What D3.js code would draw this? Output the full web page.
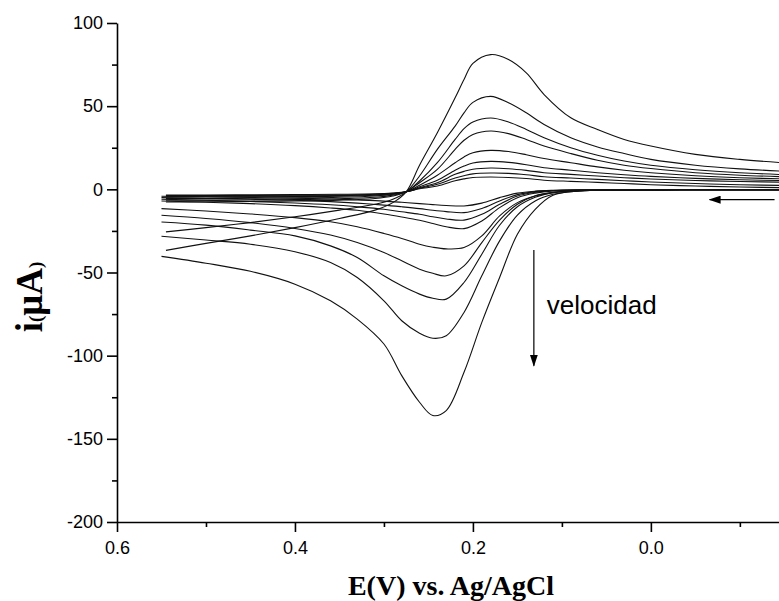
<!DOCTYPE html>
<html>
<head>
<meta charset="utf-8">
<script src="https://cdn.jsdelivr.net/npm/d3@7"></script>
<style>
  html, body { margin: 0; padding: 0; background: #fff; }
  svg { display: block; }
</style>
</head>
<body>
<script>
// ---------- DATA ----------
// Potential grid (V) for the forward (cathodic, lower) branch and reverse (upper) branch
const E_fwd = [0.55, 0.50, 0.45, 0.40, 0.36, 0.33, 0.30, 0.28, 0.26, 0.245, 0.23, 0.21, 0.19, 0.17, 0.15, 0.13, 0.11, 0.08, 0.04, 0.0, -0.05, -0.10, -0.16];
const E_rev = [-0.16, -0.10, -0.05, 0.0, 0.03, 0.06, 0.09, 0.12, 0.14, 0.16, 0.18, 0.20, 0.21, 0.22, 0.24, 0.26, 0.275, 0.29, 0.31, 0.35, 0.40, 0.45, 0.50, 0.545];

// Currents (µA), one pair of arrays per scan rate
const i1_fwd = [-40.3, -44.4, -49.3, -57, -67, -78, -93, -112, -128, -136, -133, -110, -80, -53, -27, -12, -3.5, -1, -0.5, -0.3, -0.2, -0.2, -0.2];
const i1_rev = [15.5, 18, 21, 26, 30, 36, 43, 57, 70, 78, 81, 75.7, 66, 55, 34, 14.5, -1.5, -8, -12.5, -17.5, -23, -28, -32.5, -36.7];
const i2_fwd = [-28.2, -30.5, -33, -37.5, -44, -53, -67, -79, -86.5, -89.5, -88, -74, -52, -31, -15.5, -7, -3, -1, -0.5, -0.3, -0.2, -0.2, -0.2];
const i2_rev = [10.6, 12.3, 14.5, 18, 21.5, 25.5, 31, 39, 46, 52, 55.9, 52.3, 46, 38, 24, 8, -1.5, -6, -9, -12.5, -16.5, -20, -23, -25.6];
const i3_fwd = [-19.6, -21.5, -24.5, -28, -34, -41, -52, -58, -63, -65.5, -66, -56, -39, -21.6, -10.5, -4.8, -2, -0.8, -0.5, -0.3, -0.2, -0.2, -0.2];
const i3_rev = [8.6, 10, 11.8, 14.5, 17, 20.5, 25, 31, 36, 40.5, 42.9, 40.5, 36.5, 30, 16, 5, -1.5, -4, -5.5, -6.5, -7, -7.3, -7.5, -7.6];
const i4_fwd = [-15.6, -17.5, -20, -23.5, -27.5, -32, -38, -43, -48, -50.5, -52, -46, -32, -18.5, -9, -3.8, -1.8, -0.7, -0.4, -0.3, -0.2, -0.2, -0.2];
const i4_rev = [7.4, 8.5, 10, 12.5, 14.5, 17.5, 21.5, 26, 30, 33.5, 35.1, 33, 29.5, 24, 12, 4, -1.5, -3.5, -4.8, -5.7, -6.2, -6.4, -6.5, -6.6];
const i5_fwd = [-11.6, -13, -14.8, -17, -19.5, -22.5, -26.5, -29.5, -33, -34.8, -35.8, -35, -28, -16, -8, -4, -2, -0.8, -0.4, -0.3, -0.2, -0.2, -0.2];
const i5_rev = [6.1, 7, 8.2, 10, 11.5, 13.5, 16, 18.5, 20.8, 22.7, 23.4, 22, 19.5, 16, 8.5, 2.5, -1.5, -3, -4, -4.8, -5.2, -5.4, -5.5, -5.6];
const i6_fwd = [-7, -7.8, -8.6, -9.8, -11.2, -12.6, -14.8, -16.6, -18.6, -20.5, -22.5, -23.6, -19, -11, -5, -2.3, -1, -0.5, -0.3, -0.3, -0.2, -0.2, -0.2];
const i6_rev = [5.1, 5.8, 6.6, 7.8, 8.8, 10, 11.5, 13, 14.8, 16.2, 16.8, 15.8, 14, 11.5, 5.5, 1.5, -1.5, -2.8, -3.6, -4.2, -4.4, -4.5, -4.6, -4.6];
const i7_fwd = [-6, -6.6, -7.3, -8.2, -9.3, -10.5, -12, -13.5, -15, -16.5, -17.8, -18.5, -15, -9, -4, -1.8, -0.8, -0.4, -0.3, -0.3, -0.2, -0.2, -0.2];
const i7_rev = [4.2, 4.7, 5.3, 6.2, 7, 8, 9, 10, 11.4, 12.4, 12.8, 12.1, 10.8, 9, 4, 1, -1.5, -2.6, -3.3, -3.8, -4, -4.1, -4.2, -4.2];
const i8_fwd = [-5, -5.5, -6, -6.6, -7.4, -8.3, -9.5, -10.5, -11.6, -12.6, -13.4, -14, -11.5, -7, -3.2, -1.4, -0.7, -0.4, -0.3, -0.3, -0.2, -0.2, -0.2];
const i8_rev = [2.2, 2.8, 3.5, 4.4, 5.2, 6, 6.8, 7.6, 8.8, 9.6, 9.8, 9.3, 8.2, 6.8, 3, 0.6, -1.5, -2.4, -3, -3.4, -3.6, -3.7, -3.8, -3.8];
const i9_fwd = [-4.2, -4.5, -4.9, -5.3, -5.8, -6.4, -7.1, -7.8, -8.6, -9.2, -9.7, -10, -8.3, -5, -2.3, -1.1, -0.6, -0.3, -0.2, -0.2, -0.2, -0.2, -0.2];
const i9_rev = [0.9, 1.4, 2, 2.8, 3.5, 4.2, 4.8, 5.5, 6.5, 7.1, 7.4, 7.1, 6.3, 5.2, 2, 0.3, -1.5, -2.2, -2.7, -3, -3.2, -3.3, -3.4, -3.4];

const forwardBranches = [i1_fwd, i2_fwd, i3_fwd, i4_fwd, i5_fwd, i6_fwd, i7_fwd, i8_fwd, i9_fwd];
const reverseBranches = [i1_rev, i2_rev, i3_rev, i4_rev, i5_rev, i6_rev, i7_rev, i8_rev, i9_rev];

// Axis ticks
const xMajorTicks = [0.6, 0.4, 0.2, 0.0];
const xMinorTicks = [0.5, 0.3, 0.1, -0.1];
const yMajorTicks = [-200, -150, -100, -50, 0, 50, 100];
const yMinorTicks = [-175, -125, -75, -25, 25, 75];

// Annotations (data coordinates)
const rateArrow = { E: 0.1315, from: -36.5, to: -106 };
const rateLabel = { E: 0.117, i: -75, text: "velocidad" };
const scanArrow = { i: -6.2, from: -0.139, to: -0.066 };

const xTitle = "E(V) vs. Ag/AgCl";

// ---------- CHART ----------
const W = 779, H = 601;
const svg = d3.select("body").append("svg").attr("width", W).attr("height", H);

const x = d3.scaleLinear().domain([0.6, -0.144]).range([117, 779]);
const y = d3.scaleLinear().domain([-200, 100]).range([522, 23]);

const sansFont = "'Liberation Sans', Arial, Helvetica, sans-serif";
const serifFont = "'Liberation Serif', 'Times New Roman', Times, serif";

const defs = svg.append("defs");
defs.append("clipPath").attr("id", "plotclip")
  .append("rect").attr("x", 117).attr("y", 0).attr("width", W - 117).attr("height", 522);

// Curves
const line = d3.line()
  .x(d => x(d[0]))
  .y(d => y(d[1]))
  .curve(d3.curveCatmullRom.alpha(0.5));

const curves = svg.append("g").attr("clip-path", "url(#plotclip)");
forwardBranches.forEach((vals, k) => {
  const fwd = E_fwd.map((e, j) => [e, vals[j]]);
  const rev = E_rev.map((e, j) => [e, reverseBranches[k][j]]);
  curves.append("path").attr("d", line(fwd))
    .attr("fill", "none").attr("stroke", "#111").attr("stroke-width", 1.1);
  curves.append("path").attr("d", line(rev))
    .attr("fill", "none").attr("stroke", "#111").attr("stroke-width", 1.1);
});

// Axes
function styleAxis(g) {
  g.selectAll("path.domain").attr("stroke", "#000").attr("stroke-width", 1.6);
  g.selectAll(".tick line").attr("stroke", "#000").attr("stroke-width", 1.6);
  g.selectAll(".tick text").attr("fill", "#000").style("font-family", sansFont).style("font-size", "18px");
}

const xAxisG = svg.append("g").attr("transform", "translate(0,522)")
  .call(d3.axisBottom(x).tickValues(xMajorTicks).tickSize(10).tickSizeOuter(0)
    .tickPadding(9).tickFormat(d3.format(".1f")));
styleAxis(xAxisG);
const xMinorG = svg.append("g").attr("transform", "translate(0,522)")
  .call(d3.axisBottom(x).tickValues(xMinorTicks).tickSize(5).tickSizeOuter(0).tickFormat(""));
styleAxis(xMinorG);
xMinorG.select("path.domain").remove();

const yAxisG = svg.append("g").attr("transform", "translate(117,0)")
  .call(d3.axisLeft(y).tickValues(yMajorTicks).tickSize(10).tickSizeOuter(0)
    .tickPadding(4).tickFormat(d => String(d)));
styleAxis(yAxisG);
const yMinorG = svg.append("g").attr("transform", "translate(117,0)")
  .call(d3.axisLeft(y).tickValues(yMinorTicks).tickSize(5).tickSizeOuter(0).tickFormat(""));
styleAxis(yMinorG);
yMinorG.select("path.domain").remove();

// Axis titles
svg.append("text")
  .attr("x", 451).attr("y", 595)
  .attr("text-anchor", "middle")
  .style("font-family", serifFont).style("font-weight", "bold").style("font-size", "28px")
  .text(xTitle);

const yt = svg.append("text")
  .attr("transform", "translate(42,297) rotate(-90)")
  .attr("text-anchor", "middle")
  .style("font-family", serifFont).style("font-weight", "bold").style("font-size", "37px");
yt.append("tspan").text("i");
yt.append("tspan").style("font-size", "19px").text("(");
yt.append("tspan").text("μA");
yt.append("tspan").style("font-size", "19px").text(")");

// Arrow marker
defs.append("marker").attr("id", "ahead")
  .attr("viewBox", "0 0 12 8").attr("refX", 11).attr("refY", 4)
  .attr("markerUnits", "userSpaceOnUse")
  .attr("markerWidth", 12).attr("markerHeight", 8).attr("orient", "auto")
  .append("path").attr("d", "M0,0 L12,4 L0,8 Z").attr("fill", "#000");

// Scan-rate arrow
svg.append("line")
  .attr("x1", x(rateArrow.E)).attr("y1", y(rateArrow.from))
  .attr("x2", x(rateArrow.E)).attr("y2", y(rateArrow.to))
  .attr("stroke", "#000").attr("stroke-width", 1.2)
  .attr("marker-end", "url(#ahead)");

svg.append("text")
  .attr("x", x(rateLabel.E)).attr("y", y(rateLabel.i))
  .style("font-family", sansFont).style("font-size", "26px").attr("fill", "#000")
  .text(rateLabel.text);

// Scan-direction arrow
svg.append("line")
  .attr("x1", x(scanArrow.from)).attr("y1", y(scanArrow.i))
  .attr("x2", x(scanArrow.to)).attr("y2", y(scanArrow.i))
  .attr("stroke", "#000").attr("stroke-width", 1.4)
  .attr("marker-end", "url(#ahead)");
</script>
</body>
</html>
